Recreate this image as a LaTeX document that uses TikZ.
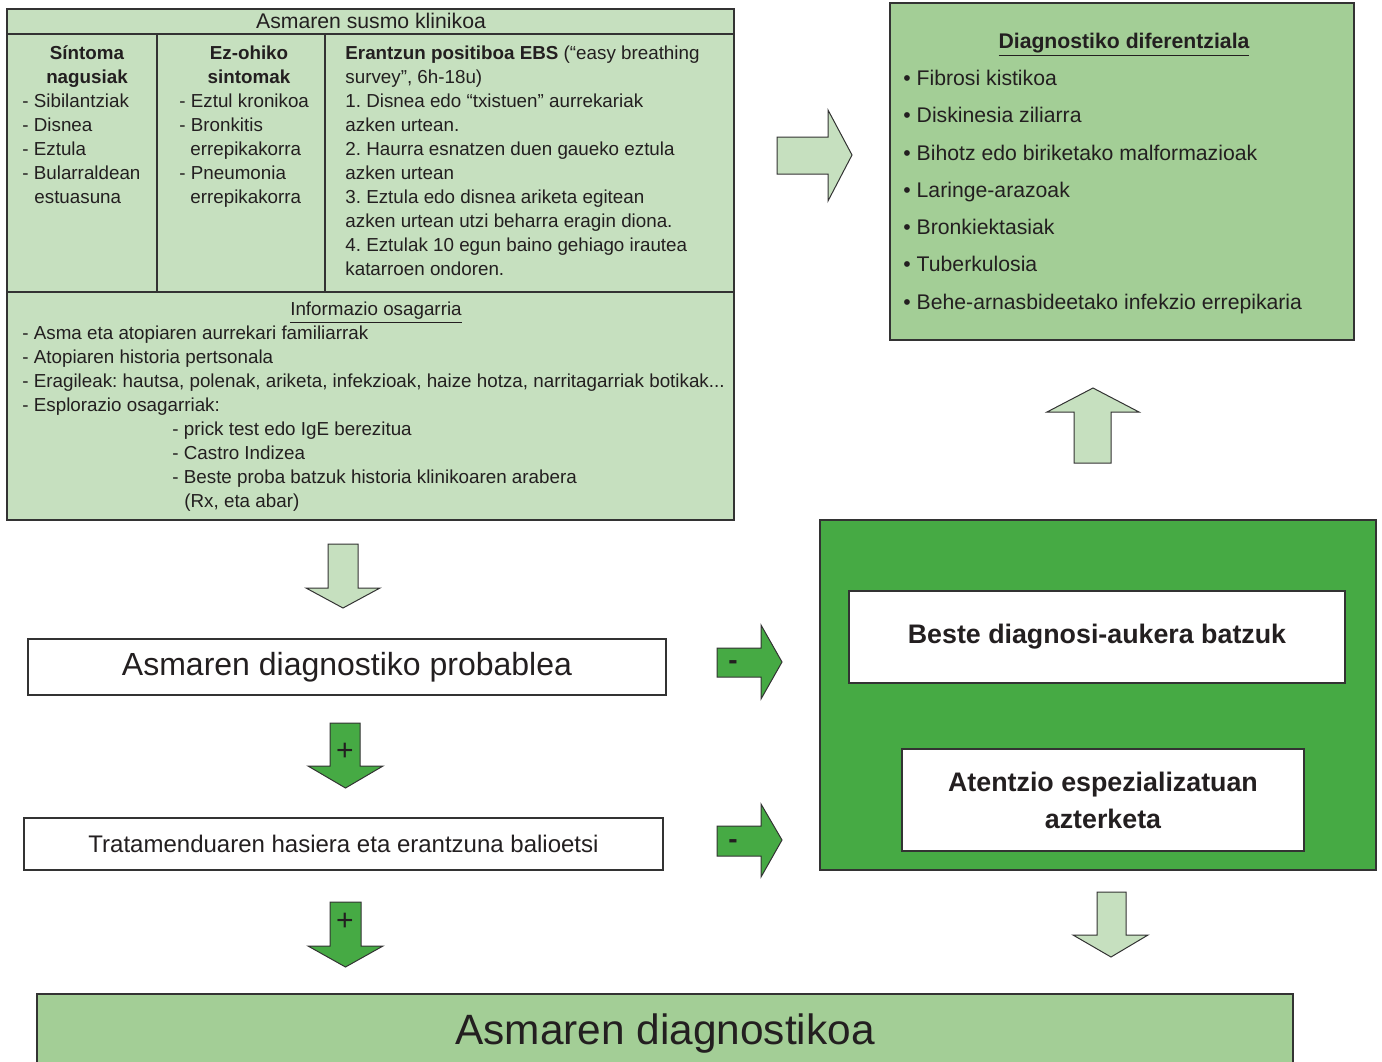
\documentclass[tikz,border=0pt]{standalone}
\usepackage{fontspec}
\setmainfont{Liberation Sans}
\usepackage{xcolor}

\definecolor{palegreen}{HTML}{C6E0BF}
\definecolor{midgreen}{HTML}{A3CE96}
\definecolor{deepgreen}{HTML}{46AA44}
\definecolor{edgegray}{HTML}{333333}
\definecolor{inkblack}{HTML}{231F20}

\newcommand{\bodyfont}{\fontsize{9.4}{12}\selectfont}
\newcommand{\listfont}{\fontsize{10.6}{13}\selectfont}
\frenchspacing

\begin{document}
\begin{tikzpicture}[x=0.5pt, y=-0.5pt]
    \tikzstyle{every node}=[text=inkblack]
    \tikzstyle{panel}=[rectangle, draw=edgegray, line width=0.75pt, inner sep=0pt]
    \tikzstyle{txt}=[anchor=west, inner sep=0pt, text height=9pt, text depth=1.5pt, font=\bodyfont]
    \tikzstyle{ctxt}=[txt, anchor=center]
    \tikzstyle{listtxt}=[txt, text height=10.3pt, text depth=1.7pt, font=\listfont]
    \tikzstyle{rule}=[draw=edgegray, line width=0.75pt]
    \tikzstyle{blockarrow}=[draw=edgegray, line width=0.5pt, line join=miter]

    \useasboundingbox (0,0) rectangle (1382,1061);
    \clip (0,0) rectangle (1382,1061);

    % Asmaren susmo klinikoa
    \node (susmo) [panel, fill=palegreen, minimum width=363.5pt, minimum height=255.5pt] at (370.5,264.5) {};
    \draw[rule] (7,34) -- (734,34);
    \draw[rule] (7,292) -- (734,292);
    \draw[rule] (157,34) -- (157,292);
    \draw[rule] (325,34) -- (325,292);
    \node (susmotit) [ctxt, font=\fontsize{10.6}{12}\selectfont] at (371,21) {Asmaren susmo klinikoa};

    % column 1
    \foreach \t [count=\i] in {Síntoma, nagusiak}
        \node (hA\i) [ctxt, font=\bodyfont\bfseries] at (87,{28+24*\i}) {\t};
    \foreach \t [count=\i] in {- Sibilantziak, - Disnea, - Eztula, - Bularraldean}
        \node (sA\i) [txt] at (22,{76+24*\i}) {\t};
    \node (sA5) [txt] at (34,196) {estuasuna};

    % column 2
    \foreach \t [count=\i] in {Ez-ohiko, sintomak}
        \node (hB\i) [ctxt, font=\bodyfont\bfseries] at (249,{28+24*\i}) {\t};
    \node (sB1) [txt] at (179,100) {- Eztul kronikoa};
    \node (sB2) [txt] at (179,124) {- Bronkitis};
    \node (sB3) [txt] at (190,148) {errepikakorra};
    \node (sB4) [txt] at (179,172) {- Pneumonia};
    \node (sB5) [txt] at (190,196) {errepikakorra};

    % column 3
    \foreach \t [count=\i] in {{\textbf{Erantzun positiboa EBS} (“easy breathing}, {survey”, 6h-18u)},
        1. Disnea edo “txistuen” aurrekariak, azken urtean.,
        2. Haurra esnatzen duen gaueko eztula, azken urtean,
        3. Eztula edo disnea ariketa egitean, azken urtean utzi beharra eragin diona.,
        4. Eztulak 10 egun baino gehiago irautea, katarroen ondoren.}
        \node (sC\i) [txt] at (345,{28+24*\i}) {\t};

    % Informazio osagarria
    \node (infotit) [ctxt] at (376,308) {\underline{Informazio osagarria}};
    \node (inf1) [txt] at (22,332) {- Asma eta atopiaren aurrekari familiarrak};
    \node (inf2) [txt] at (22,356) {- Atopiaren historia pertsonala};
    \node (inf3) [txt] at (22,380) {- Eragileak: hautsa, polenak, ariketa, infekzioak, haize hotza, narritagarriak botikak...};
    \node (inf4) [txt] at (22,404) {- Esplorazio osagarriak:};
    \node (inf5) [txt] at (172,428) {- prick test edo IgE berezitua};
    \node (inf6) [txt] at (172,452) {- Castro Indizea};
    \node (inf7) [txt] at (172,476) {- Beste proba batzuk historia klinikoaren arabera};
    \node (inf8) [txt] at (184,500) {(Rx, eta abar)};

    % Diagnostiko diferentziala
    \node (difer) [panel, fill=midgreen, minimum width=232pt, minimum height=168.5pt] at (1122,171.5) {};
    \node (difertit) [ctxt, text height=10.3pt, text depth=1.7pt, font=\listfont\bfseries] at (1124,40) {\underline{Diagnostiko diferentziala}};
    \foreach \t [count=\i] in {Fibrosi kistikoa, Diskinesia ziliarra, Bihotz edo biriketako malformazioak,
        Laringe-arazoak, Bronkiektasiak, Tuberkulosia, Behe-arnasbideetako infekzio errepikaria}
        \node (dif\i) [listtxt] at (903,{39.5+37.3*\i}) {\textbullet\ \t};

    % main flow
    \node (probable) [panel, fill=white, minimum width=319pt, minimum height=28pt, font=\fontsize{16}{18}\selectfont] at (347,667) {Asmaren diagnostiko probablea};
    \node (tratam) [panel, fill=white, minimum width=319.5pt, minimum height=26pt, font=\fontsize{12}{14}\selectfont] at (343.5,844) {Tratamenduaren hasiera eta erantzuna balioetsi};
    \node (diagnos) [panel, fill=midgreen, minimum width=628pt, minimum height=40pt, font=\fontsize{21.2}{24}\selectfont] at (665,1034) {Asmaren diagnostikoa};

    % other options
    \node (beste) [panel, fill=deepgreen, minimum width=278pt, minimum height=175pt] at (1098,695) {};
    \node (aukera) [panel, fill=white, minimum width=248pt, minimum height=46pt, font=\fontsize{13.4}{18.5}\selectfont\bfseries] at (1097,637) {Beste diagnosi-aukera batzuk};
    \node (atentzio) [panel, fill=white, minimum width=201pt, minimum height=51pt, align=center, font=\fontsize{13.4}{18.5}\selectfont\bfseries] at (1103,800) {Atentzio espezializatuan\\azterketa};

    % block arrows
    \draw[blockarrow, fill=palegreen] (777,137) -- (828,137) -- (828,110) -- (852,155) -- (828,201) -- (828,174) -- (777,174) -- cycle;
    \draw[blockarrow, fill=palegreen] (1074,463) -- (1074,412) -- (1047,412) -- (1093,388) -- (1139,412) -- (1111,412) -- (1111,463) -- cycle;
    \draw[blockarrow, fill=palegreen] (1097,892) -- (1126,892) -- (1126,935) -- (1148,935) -- (1111,957) -- (1073,935) -- (1097,935) -- cycle;
    \draw[blockarrow, fill=palegreen] (328,544) -- (358,544) -- (358,588) -- (380,588) -- (343,608) -- (306,588) -- (328,588) -- cycle;
    \draw[blockarrow, fill=deepgreen] (330,723) -- (360,723) -- (360,766) -- (383,766) -- (345.5,788) -- (308,766) -- (330,766) -- cycle;
    \draw[blockarrow, fill=deepgreen] (330,902) -- (361,902) -- (361,946) -- (383,946) -- (345.5,967) -- (308,946) -- (330,946) -- cycle;
    \draw[blockarrow, fill=deepgreen] (717,648) -- (761,648) -- (761,625) -- (782,662) -- (761,699) -- (761,677) -- (717,677) -- cycle;
    \draw[blockarrow, fill=deepgreen] (717,826) -- (761,826) -- (761,804) -- (782,840) -- (761,877) -- (761,856) -- (717,856) -- cycle;

    % signs
    \node (plus1) [inner sep=0pt, font=\fontsize{15}{15}\selectfont] at (345,752) {+};
    \node (plus2) [inner sep=0pt, font=\fontsize{15}{15}\selectfont] at (345,922) {+};
    \node (minus1) [inner sep=0pt, font=\fontsize{14}{14}\selectfont\bfseries] at (733,665) {-};
    \node (minus2) [inner sep=0pt, font=\fontsize{14}{14}\selectfont\bfseries] at (733,844) {-};

\end{tikzpicture}
\end{document}
